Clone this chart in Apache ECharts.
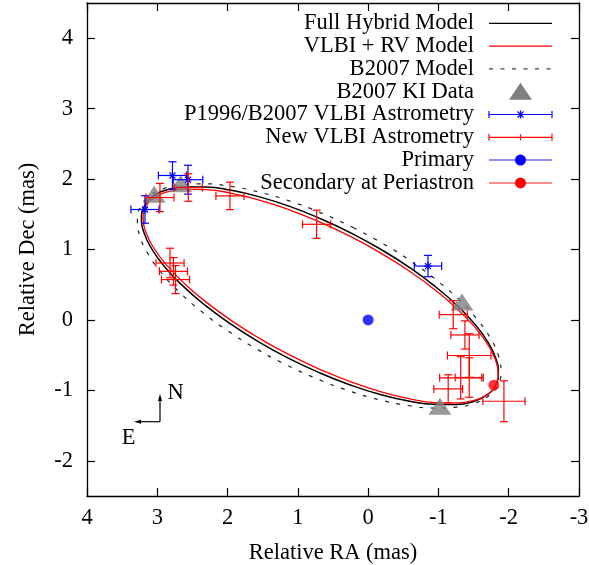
<!DOCTYPE html>
<html><head><meta charset="utf-8">
<script src="https://cdn.jsdelivr.net/npm/echarts@6/dist/echarts.min.js"></script>
<style>html,body{margin:0;padding:0;background:#fff}#c{width:589px;height:565px}</style>
</head><body><div id="c"></div>
<script>
// ---- data ----
const xTicks = [4, 3, 2, 1, 0, -1, -2, -3];
const yTicks = [-2, -1, 0, 1, 2, 3, 4];

// model orbits (RA, Dec)
const fullHybrid = [
  [0.675,1.437],[0.234,1.230],[-0.192,0.996],[-0.593,0.742],[-0.954,0.475],[-1.266,0.205],
  [-1.518,-0.060],[-1.704,-0.314],[-1.817,-0.548],[-1.853,-0.754],[-1.813,-0.927],[-1.697,-1.062],
  [-1.508,-1.154],[-1.253,-1.200],[-0.938,-1.199],[-0.575,-1.152],[-0.173,-1.059],[0.255,-0.923],
  [0.696,-0.749],[1.137,-0.542],[1.564,-0.308],[1.964,-0.053],[2.326,0.213],[2.637,0.483],
  [2.890,0.749],[3.075,1.002],[3.188,1.236],[3.225,1.442],[3.184,1.616],[3.068,1.750],
  [2.879,1.842],[2.624,1.888],[2.310,1.888],[1.946,1.840],[1.544,1.747],[1.116,1.612],
  [0.675,1.437],[0.234,1.230],[-0.192,0.996]
];
const vlbiRv = [
  [0.685,1.389],[0.246,1.182],[-0.179,0.949],[-0.579,0.698],[-0.940,0.436],[-1.253,0.170],
  [-1.506,-0.089],[-1.694,-0.336],[-1.810,-0.563],[-1.850,-0.762],[-1.813,-0.927],[-1.701,-1.054],
  [-1.516,-1.139],[-1.265,-1.179],[-0.955,-1.173],[-0.595,-1.120],[-0.197,-1.024],[0.228,-0.886],
  [0.666,-0.711],[1.105,-0.504],[1.530,-0.271],[1.930,-0.020],[2.291,0.242],[2.604,0.508],
  [2.857,0.767],[3.045,1.014],[3.161,1.241],[3.201,1.440],[3.164,1.605],[3.052,1.732],
  [2.867,1.817],[2.616,1.857],[2.306,1.851],[1.946,1.798],[1.548,1.702],[1.123,1.564],
  [0.685,1.389],[0.246,1.182],[-0.179,0.949]
];
const b2007Model = [
  [0.214,1.312],[-0.220,1.078],[-0.626,0.822],[-0.992,0.550],[-1.307,0.273],[-1.560,-0.003],
  [-1.745,-0.268],[-1.856,-0.514],[-1.889,-0.735],[-1.844,-0.922],[-1.721,-1.072],[-1.525,-1.178],
  [-1.261,-1.239],[-0.938,-1.251],[-0.566,-1.215],[-0.155,-1.132],[0.283,-1.004],[0.732,-0.834],
  [1.181,-0.630],[1.614,-0.396],[2.020,-0.139],[2.386,0.132],[2.701,0.410],[2.954,0.685],
  [3.139,0.950],[3.250,1.197],[3.283,1.417],[3.238,1.605],[3.115,1.754],[2.919,1.861],
  [2.655,1.921],[2.332,1.933],[1.960,1.897],[1.549,1.814],[1.112,1.686],[0.662,1.517],
  [0.214,1.312]
];
const kiData = [[3.044,1.785],[2.666,1.935],[-1.334,0.256],[-1.021,-1.226]];
// [RA, Dec, RA error, Dec error]
const oldVlbi = [
  [3.175,1.568,0.20,0.195],[2.784,2.051,0.20,0.195],[2.563,1.991,0.21,0.205],[-0.851,0.765,0.195,0.152]
];
const newVlbi = [
  [2.962,1.738,0.20,0.20],[2.559,1.880,0.20,0.195],[1.966,1.761,0.20,0.195],[0.733,1.358,0.20,0.20],
  [2.819,0.808,0.20,0.21],[2.770,0.690,0.20,0.195],[2.741,0.573,0.20,0.20],
  [-1.211,0.075,0.20,0.20],[-1.377,-0.213,0.20,0.20],[-1.438,-0.505,0.31,0.31],
  [-1.438,-0.818,0.20,0.28],[-1.317,-0.822,0.30,0.30],[-1.139,-0.979,0.205,0.20],
  [-1.932,-1.155,0.30,0.29]
];
const primary = [[0, 0]];
const secondaryPeri = [[-1.789, -0.927]];
const legendLabels = ['Full Hybrid Model','VLBI + RV Model','B2007 Model','B2007 KI Data',
  'P1996/B2007 VLBI Astrometry','New VLBI Astrometry','Primary','Secondary at Periastron'];

// ---- chart ----
const FF = "'Liberation Serif', 'Times New Roman', serif";
const FS = 22.5;
const BLUE = '#0000ff', RED = '#ff0000', GREY = '#808080';

function makeErr(color, star) {
  return function (params, api) {
    const x = api.value(0), y = api.value(1), ex = api.value(2), ey = api.value(3);
    const c = api.coord([x, y]);
    const p1 = api.coord([x + ex, y]), p2 = api.coord([x - ex, y]);
    const p3 = api.coord([x, y + ey]), p4 = api.coord([x, y - ey]);
    const cap = 4;
    const st = { stroke: color, lineWidth: 1.2 };
    const L = (x1, y1, x2, y2) => ({ type: 'line', shape: { x1, y1, x2, y2 }, style: st });
    const ch = [
      L(p1[0], c[1], p2[0], c[1]), L(c[0], p3[1], c[0], p4[1]),
      L(p1[0], c[1] - cap, p1[0], c[1] + cap), L(p2[0], c[1] - cap, p2[0], c[1] + cap),
      L(c[0] - cap, p3[1], c[0] + cap, p3[1]), L(c[0] - cap, p4[1], c[0] + cap, p4[1])
    ];
    if (star) {
      const s = 4, d = 3;
      ch.push(L(c[0] - s, c[1], c[0] + s, c[1]), L(c[0], c[1] - s, c[0], c[1] + s),
        L(c[0] - d, c[1] - d, c[0] + d, c[1] + d), L(c[0] - d, c[1] + d, c[0] + d, c[1] - d));
    }
    return { type: 'group', children: ch };
  };
}

// legend drawn as graphic elements
const LX0 = 489, LX1 = 552, LXC = 520.5, LTX = 474;
const legendGraphics = [];
legendLabels.forEach((t, i) => {
  const y = 23.3 + 22.8 * i;
  legendGraphics.push({ type: 'text', style: { text: t, x: LTX, y: y, align: 'right', textAlign: 'right',
    verticalAlign: 'middle', textVerticalAlign: 'middle', font: FS + 'px ' + FF, fill: '#000' } });
  const line = (stroke, extra) => ({ type: 'line', shape: { x1: LX0, y1: y, x2: LX1, y2: y },
    style: Object.assign({ stroke: stroke, lineWidth: 1.3 }, extra || {}) });
  const seg = (x1, y1, x2, y2, stroke) => ({ type: 'line', shape: { x1, y1, x2, y2 }, style: { stroke, lineWidth: 1.2 } });
  if (i === 0) legendGraphics.push(line('#000'));
  if (i === 1) legendGraphics.push(line(RED));
  if (i === 2) legendGraphics.push(line('#444', { lineDash: [4, 7.5], lineWidth: 1.2 }));
  if (i === 3) legendGraphics.push({ type: 'polygon', shape: { points: [[LXC - 11.5, y + 8], [LXC + 11.5, y + 8], [LXC, y - 9]] }, style: { fill: GREY } });
  if (i === 4) {
    legendGraphics.push(line(BLUE, { lineWidth: 1.2 }), seg(LX0, y - 3.5, LX0, y + 3.5, BLUE), seg(LX1, y - 3.5, LX1, y + 3.5, BLUE),
      seg(LXC, y - 4, LXC, y + 4, BLUE), seg(LXC - 3, y - 3, LXC + 3, y + 3, BLUE), seg(LXC - 3, y + 3, LXC + 3, y - 3, BLUE));
  }
  if (i === 5) {
    legendGraphics.push(line(RED, { lineWidth: 1.2 }), seg(LX0, y - 3.5, LX0, y + 3.5, RED), seg(LX1, y - 3.5, LX1, y + 3.5, RED),
      seg(LXC, y - 3, LXC, y + 3, RED));
  }
  if (i === 6) legendGraphics.push(line(BLUE, { opacity: 0.6, lineWidth: 1.5 }), { type: 'circle', shape: { cx: LXC, cy: y, r: 5.5 }, style: { fill: BLUE } });
  if (i === 7) legendGraphics.push(line(RED, { opacity: 0.6, lineWidth: 1.5 }), { type: 'circle', shape: { cx: LXC, cy: y, r: 5.5 }, style: { fill: RED } });
});
// compass
const compass = [
  { type: 'line', shape: { x1: 160, y1: 421.7, x2: 160, y2: 398 }, style: { stroke: '#000', lineWidth: 1.2 } },
  { type: 'polygon', shape: { points: [[160, 394], [158, 401], [162, 401]] }, style: { fill: '#000' } },
  { type: 'line', shape: { x1: 160, y1: 421.7, x2: 138, y2: 421.7 }, style: { stroke: '#000', lineWidth: 1.2 } },
  { type: 'polygon', shape: { points: [[134, 421.7], [141, 419.7], [141, 423.7]] }, style: { fill: '#000' } },
  { type: 'text', style: { text: 'N', x: 175.5, y: 393.5, align: 'center', textAlign: 'center', verticalAlign: 'middle', textVerticalAlign: 'middle', font: FS + 'px ' + FF, fill: '#000' } },
  { type: 'text', style: { text: 'E', x: 128.5, y: 438.5, align: 'center', textAlign: 'center', verticalAlign: 'middle', textVerticalAlign: 'middle', font: FS + 'px ' + FF, fill: '#000' } }
];

const axisLineStyle = { show: true, onZero: false, lineStyle: { color: '#000', width: 1.3 } };
const tickStyle = { color: '#000', width: 1.2 };
const labelStyle = { fontFamily: FF, fontSize: FS, color: '#000' };
const intFmt = v => (Math.abs(v - Math.round(v)) < 1e-9 ? String(Math.round(v)) : '');

const option = {
  animation: false,
  backgroundColor: '#fff',
  grid: { left: 87, right: 10, top: 3, bottom: 69, containLabel: false, outerBoundsMode: 'none' },
  xAxis: [
    { type: 'value', min: -3, max: 4, interval: 1, inverse: true, position: 'bottom',
      axisLine: axisLineStyle, axisTick: { inside: true, length: 8, lineStyle: tickStyle, customValues: xTicks },
      axisLabel: Object.assign({ margin: 11, showMinLabel: true, showMaxLabel: true, customValues: xTicks, formatter: intFmt }, labelStyle),
      splitLine: { show: false },
      name: 'Relative RA (mas)', nameLocation: 'middle', nameGap: 46, nameTextStyle: labelStyle },
    { type: 'value', min: -3, max: 4, interval: 1, inverse: true, position: 'top',
      axisLine: axisLineStyle, axisTick: { inside: true, length: 8, lineStyle: tickStyle, customValues: xTicks },
      axisLabel: { show: false }, splitLine: { show: false } }
  ],
  yAxis: [
    { type: 'value', min: -2.5, max: 4.5, position: 'left',
      axisLine: axisLineStyle, axisTick: { inside: true, length: 8, lineStyle: tickStyle, customValues: yTicks },
      axisLabel: Object.assign({ margin: 14, customValues: yTicks, formatter: intFmt }, labelStyle),
      splitLine: { show: false },
      name: 'Relative Dec (mas)', nameLocation: 'middle', nameGap: 47, nameTextStyle: labelStyle },
    { type: 'value', min: -2.5, max: 4.5, position: 'right',
      axisLine: axisLineStyle, axisTick: { inside: true, length: 8, lineStyle: tickStyle, customValues: yTicks },
      axisLabel: { show: false }, splitLine: { show: false } }
  ],
  graphic: legendGraphics.concat(compass),
  series: [
    { name: 'Full Hybrid Model', type: 'line', data: fullHybrid, smooth: 0.5, symbol: 'none', z: 2,
      lineStyle: { color: '#000', width: 1.5 } },
    { name: 'VLBI + RV Model', type: 'line', data: vlbiRv, smooth: 0.5, symbol: 'none', z: 2,
      lineStyle: { color: RED, width: 1.3 } },
    { name: 'B2007 Model', type: 'line', data: b2007Model, smooth: 0.5, symbol: 'none', z: 2,
      lineStyle: { color: '#222', width: 1.2, type: [4, 7.5] } },
    { name: 'B2007 KI Data', type: 'scatter', data: kiData, symbol: 'triangle', symbolSize: [23, 17], z: 3,
      itemStyle: { color: GREY } },
    { name: 'P1996/B2007 VLBI Astrometry', type: 'custom', data: oldVlbi, encode: { x: 0, y: 1 },
      renderItem: makeErr(BLUE, true), z: 4 },
    { name: 'New VLBI Astrometry', type: 'custom', data: newVlbi, encode: { x: 0, y: 1 },
      renderItem: makeErr(RED, false), z: 4 },
    { name: 'Primary', type: 'scatter', data: primary, symbol: 'circle', symbolSize: 11, z: 5,
      itemStyle: { color: BLUE } },
    { name: 'Secondary at Periastron', type: 'scatter', data: secondaryPeri, symbol: 'circle', symbolSize: 11, z: 5,
      itemStyle: { color: RED } }
  ]
};
const chart = echarts.init(document.getElementById('c'), null, { renderer: 'canvas' });
chart.setOption(option);
</script>
</body></html>
